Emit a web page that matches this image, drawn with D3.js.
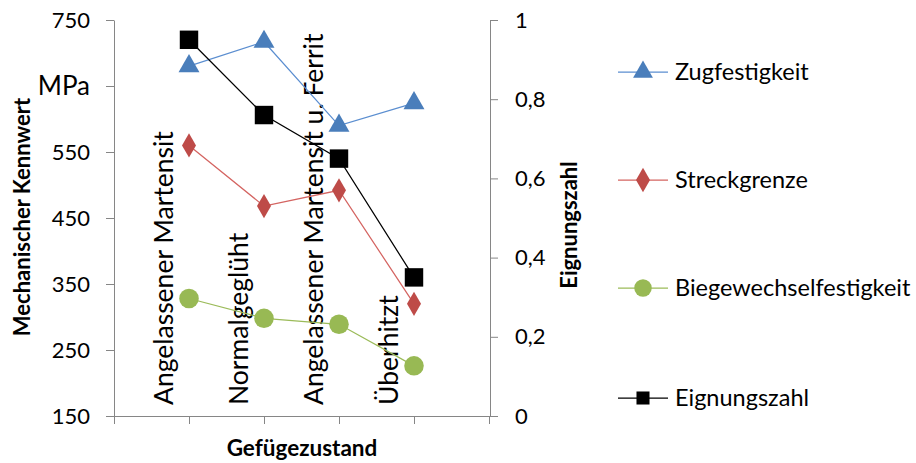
<!DOCTYPE html>
<html>
<head>
<meta charset="utf-8">
<script src="https://cdn.jsdelivr.net/npm/d3@7"></script>
<style>
  body { margin: 0; background: #fff; }
  text { font-family: Lato, "Open Sans", sans-serif; fill: #000; }
</style>
</head>
<body>
<script>
// categories (first and last slots of the axis stay empty)
const categories = ["Angelassener Martensit", "Normalgeglüht", "Angelassener Martensit u. Ferrit", "Überhitzt"];

// series
const zugfestigkeit = [680, 717, 590, 624];
const streckgrenze = [560, 468, 492, 320];
const biegewechsel = [328, 298, 289, 226];
const eignungszahl = [0.95, 0.76, 0.65, 0.35];

const leftTicks = [150, 250, 350, 450, 550, 650, 750];
const rightTicks = [0, 0.2, 0.4, 0.6, 0.8, 1];

const width = 916;
const height = 463;
const axisGrey = "#868686";

const svg = d3.select("body").append("svg")
  .attr("width", width)
  .attr("height", height);

// scales
const x = d3.scaleLinear().domain([0, categories.length + 1]).range([114, 489]);
const yLeft = d3.scaleLinear().domain([150, 750]).range([416, 20]);
const yRight = d3.scaleLinear().domain([0, 1]).range([416, 20]);

// left axis, the 650 tick carries the unit instead
const leftAxis = svg.append("g")
  .attr("transform", "translate(114,0)")
  .call(d3.axisLeft(yLeft)
    .tickValues(leftTicks)
    .tickSizeInner(8)
    .tickSizeOuter(0)
    .tickPadding(16)
    .tickFormat((d) => d === 650 ? "MPa" : d));

// right axis
const rightAxis = svg.append("g")
  .attr("transform", "translate(490,0)")
  .call(d3.axisRight(yRight)
    .tickValues(rightTicks)
    .tickSizeInner(8)
    .tickSizeOuter(0)
    .tickPadding(17)
    .tickFormat((d) => String(d).replace(".", ",")));

// bottom axis, ticks between category slots
const bottomAxis = svg.append("g")
  .attr("transform", "translate(0,416)")
  .call(d3.axisBottom(x)
    .tickValues(d3.range(0, categories.length + 2))
    .tickSizeInner(8)
    .tickSizeOuter(0)
    .tickFormat(""));

[leftAxis, rightAxis, bottomAxis].forEach((g) => {
  g.select(".domain").attr("stroke", axisGrey).attr("stroke-width", 1);
  g.selectAll(".tick line").attr("stroke", axisGrey);
  g.selectAll(".tick text")
    .style("font-size", (d) => d === 650 ? "26px" : "22px")
    .attr("fill", "#000");
});

// axis titles
svg.append("text")
  .attr("transform", "translate(30,217) rotate(-90)")
  .attr("text-anchor", "middle")
  .style("font-size", "22px")
  .style("font-weight", "bold")
  .text("Mechanischer Kennwert");

svg.append("text")
  .attr("transform", "translate(577,225) rotate(-90)")
  .attr("text-anchor", "middle")
  .style("font-size", "22px")
  .style("font-weight", "bold")
  .text("Eignungszahl");

svg.append("text")
  .attr("x", 302)
  .attr("y", 456)
  .attr("text-anchor", "middle")
  .style("font-size", "22.5px")
  .style("font-weight", "bold")
  .text("Gefügezustand");

// category labels, rotated inside the plot
svg.append("g").selectAll("text")
  .data(categories)
  .join("text")
    .attr("transform", (d, i) => `translate(${x(i + 1) - 16},405) rotate(-90)`)
    .attr("text-anchor", "start")
    .style("font-size", "26.5px")
    .text((d) => d);

// marker shapes
const symbols = {
  triangle: d3.symbol().type(d3.symbolTriangle).size(190),
  diamond: d3.symbol().type(d3.symbolDiamond).size(170),
  circle: d3.symbol().type(d3.symbolCircle).size(300),
  square: d3.symbol().type(d3.symbolSquare).size(340)
};

const series = [
  { name: "Zugfestigkeit", values: zugfestigkeit, y: yLeft, color: "#4A7EBB", line: "#5B8ED0", shape: "triangle" },
  { name: "Streckgrenze", values: streckgrenze, y: yLeft, color: "#BE4B48", line: "#D46461", shape: "diamond" },
  { name: "Biegewechselfestigkeit", values: biegewechsel, y: yLeft, color: "#98B954", line: "#9BBB59", shape: "circle" },
  { name: "Eignungszahl", values: eignungszahl, y: yRight, color: "#000000", line: "#000000", shape: "square" }
];

series.forEach((s) => {
  const line = d3.line()
    .x((d, i) => x(i + 1))
    .y((d) => s.y(d));

  svg.append("path")
    .datum(s.values)
    .attr("fill", "none")
    .attr("stroke", s.line)
    .attr("stroke-width", 1.25)
    .attr("d", line);

  svg.append("g").selectAll("path")
    .data(s.values)
    .join("path")
      .attr("transform", (d, i) => `translate(${x(i + 1)},${s.y(d)})`)
      .attr("d", symbols[s.shape])
      .attr("fill", s.color);
});

// legend
const legendRows = [72, 180, 288, 398];
const legend = svg.append("g").selectAll("g")
  .data(series)
  .join("g")
    .attr("transform", (d, i) => `translate(618,${legendRows[i]})`);

legend.append("line")
  .attr("x1", 0)
  .attr("x2", 50)
  .attr("stroke", (d) => d.line)
  .attr("stroke-width", 1.25);

legend.append("path")
  .attr("transform", "translate(25,0)")
  .attr("d", (d) => symbols[d.shape].size(d.shape === "circle" ? 240 : 170)())
  .attr("fill", (d) => d.color);

legend.append("text")
  .attr("x", 57)
  .attr("dy", "0.35em")
  .style("font-size", "23.5px")
  .text((d) => d.name);
</script>
</body>
</html>
